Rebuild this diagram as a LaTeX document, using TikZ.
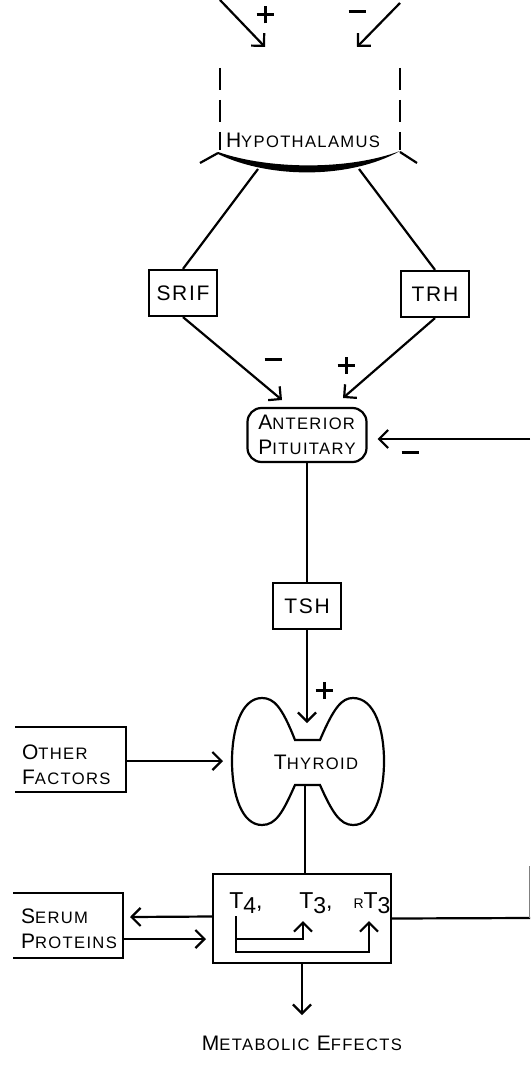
\documentclass[tikz,border=0pt]{standalone}
\usepackage{fontspec}
\setmainfont{Liberation Sans}[LetterSpace=8]
\usetikzlibrary{arrows.meta,positioning}
\newcommand{\capsc}[2]{{\fontsize{10.5}{11}\selectfont #1}{\fontsize{8.3}{9}\selectfont #2}}
\newcommand{\lowsub}[1]{\raisebox{-0.45ex}{#1}}
\newcommand{\minus}{\rule[3.5pt]{8.5pt}{1.5pt}}
\newcommand{\plus}{\rule[3.5pt]{8.5pt}{1.5pt}\kern-5pt\rule{1.5pt}{8.5pt}\kern3.5pt}

\begin{document}
\begin{tikzpicture}[x=0.5pt,y=-0.5pt,line width=1.1pt,>={Straight Barb[length=4.5pt,width=9pt]}]
		\tikzstyle {hormbox} = [draw, minimum width=34pt, minimum height=23pt, inner sep=0pt, font=\fontsize{10.5}{11}\selectfont]
		\tikzstyle {sign} = [inner sep=0pt]
		\tikzstyle {broken} = [dash pattern=on 11pt off 5pt]
		\tikzstyle {twoline} = [align=left, inner sep=0pt, font=\fontsize{10.5}{12.5}\selectfont]

		\useasboundingbox (0,0) rectangle (530,1065);

		% inputs to the hypothalamus
		\coordinate (plusin) at (265,47);
		\coordinate (minusin) at (357,47);
		\draw[->] (220,0) -- (plusin);
		\draw[->] (400,3) -- (minusin);
		\node[sign] at (265,15) {\plus};
		\node[sign] at (357,15) {\minus};

		\draw[broken] (220,68) -- (220,150);
		\draw[broken] (400,68) -- (400,150);
		\node (hypo) at (303,140) {\capsc{H}{YPOTHALAMUS}};

		\fill (218,152) .. controls (270,170) and (350,170) .. (400,151)
		      .. controls (350,179) and (270,179) .. (218,154) -- cycle;
		\draw (200,163) -- (218,153);
		\draw (400,152) -- (417,163);
		\coordinate (hypoL) at (258,169);
		\coordinate (hypoR) at (359,169);

		% releasing factors
		\node[hormbox] (srif) at (183,293) {SRIF};
		\node[hormbox] (trh) at (435,294) {TRH};
		\draw (hypoL) -- (srif.north);
		\draw (hypoR) -- (trh.north);

		\node[draw, rounded corners=7pt, minimum width=59.5pt, minimum height=27pt, twoline] (pit) at (307,435)
		     {\capsc{A}{NTERIOR}\\\capsc{P}{ITUITARY}};
		\coordinate (pitL) at (282,400);
		\coordinate (pitR) at (343,398);
		\draw[->] (srif.south) -- (pitL);
		\draw[->] (trh.south) -- (pitR);
		\node[sign] at (273,363) {\minus};
		\node[sign] at (346,365) {\plus};

		\coordinate (fbin) at (530,439);
		\draw[->, shorten >=5pt] (fbin) -- (fbin -| pit.east);
		\node[sign] at (410,456) {\minus};

		% thyroid
		\node[hormbox] (tsh) at (307,606) {TSH};
		\draw (pit) -- (tsh);
		\coordinate (thyin) at (307,723);
		\draw[->] (tsh) -- (thyin);
		\node[sign] at (324,690) {\plus};

		\draw (295,740) .. controls (282,707) and (274,698) .. (262,698)
		      .. controls (241,698) and (232,730) .. (232,761)
		      .. controls (232,795) and (242,825) .. (262,825)
		      .. controls (276,825) and (283,812) .. (295,785) -- (320,785)
		      .. controls (332,812) and (340,825) .. (353,825)
		      .. controls (374,825) and (384,795) .. (384,761)
		      .. controls (384,730) and (375,698) .. (353,698)
		      .. controls (342,698) and (334,707) .. (320,740) -- cycle;
		\node (thyroid) at (316,762) {\capsc{T}{HYROID}};
		\coordinate (thyout) at (305,785);

		\draw (15,727) -- (126,727) -- (126,792) -- (15,792);
		\node[twoline, anchor=west] (other) at (21,765) {\capsc{O}{THER}\\\capsc{F}{ACTORS}};
		\draw[->] (126,761) -- (223,761);

		% hormones
		\node[draw, minimum width=89pt, minimum height=44.5pt] (hormones) at (302,918.5) {};
		\draw (thyout) -- (thyout |- hormones.north);
		\node[font=\fontsize{11.5}{12}\selectfont] (t4) at (246,903) {T\lowsub{4},};
		\node[font=\fontsize{11.5}{12}\selectfont] (t3) at (316,903) {T\lowsub{3},};
		\node[font=\fontsize{11.5}{12}\selectfont] (rt3) at (372,903) {{\fontsize{7}{7}\selectfont R}T\lowsub{3}};
		\coordinate (t4base) at (236,916);
		\coordinate (t3in) at (303,921);
		\coordinate (rt3in) at (369,921);
		\draw[->] (t4base) -- (236,939) -| (t3in);
		\draw[->] (236,939) -- (236,952) -| (rt3in);

		\draw (13,893) -- (123,893) -- (123,958) -- (13,958);
		\node[twoline, anchor=west] (serum) at (20,929) {\capsc{S}{ERUM}\\\capsc{P}{ROTEINS}};
		\draw[->] (hormones.west) ++(0,-2) -- (130,917);
		\draw[->] (123,939) -- (206,939);

		\draw (hormones.east) -- (530,918);
		\draw[gray, line width=0.4pt] (529,866) -- (529,918);

		\coordinate (effin) at (302,1015);
		\draw[->] (hormones.south) -- (effin);
		\node (effects) at (302,1043) {\capsc{M}{ETABOLIC} \capsc{E}{FFECTS}};
\end{tikzpicture}
\end{document}
